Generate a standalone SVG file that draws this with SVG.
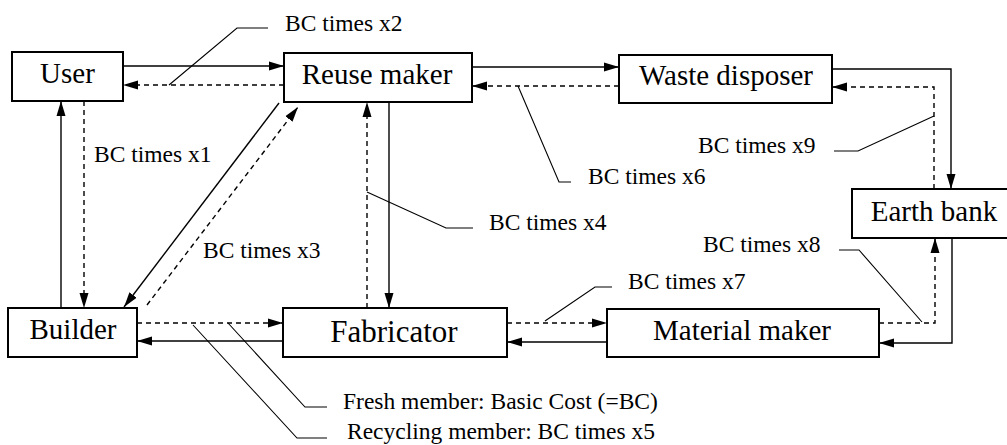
<svg xmlns="http://www.w3.org/2000/svg" width="1007" height="445" viewBox="0 0 1007 445">
<style>
.box{fill:#fff;stroke:#000;stroke-width:2}
.lbl{font-family:"Liberation Serif","Times New Roman",serif;font-size:29px;fill:#000;text-anchor:middle}
.note{font-family:"Liberation Serif","Times New Roman",serif;font-size:23.5px;fill:#000}
.c{fill:none;stroke:#000;stroke-width:1.4}
.s{marker-end:url(#ah)}
.d{stroke-dasharray:5,4}
.lead{fill:none;stroke:#000;stroke-width:1.1}
</style>
<defs>
<marker id="ah" markerUnits="userSpaceOnUse" markerWidth="15" markerHeight="10" refX="15" refY="5" orient="auto">
<path d="M0,0.5 L15,5 L0,9.5 z" fill="#000"/>
</marker>
</defs>
<rect width="1007" height="445" fill="#fff"/>
<g id="connectors">
<path class="c s" d="M123,66 H284"/>
<path class="c s d" d="M284,85 H123"/>
<path class="c s" d="M472,67 H619"/>
<path class="c s d" d="M619,86 H472"/>
<path class="c s" d="M832,69 H951 V189"/>
<path class="c s d" d="M934,189 V87 H832"/>
<path class="c s" d="M952,238 V343 H879"/>
<path class="c s d" d="M879,323 H935 V238"/>
<path class="c s d" d="M507,323 H607"/>
<path class="c s" d="M607,342 H507"/>
<path class="c s d" d="M137,323 H283"/>
<path class="c s" d="M283,341 H137"/>
<path class="c s" d="M61,308 V101"/>
<path class="c s d" d="M84,101 V308"/>
<path class="c s d" d="M367,308 V102"/>
<path class="c s" d="M389,102 V308"/>
<path class="c s" d="M279,103 L124,307"/>
<path class="c s d" d="M147,305 L298,107"/>
<path class="lead" d="M268,28 H237 L169,85"/>
<path class="lead" d="M367,192 L446,228 H473"/>
<path class="lead" d="M518,86 L559,182 H571"/>
<path class="lead" d="M834,151 H858 L934,116"/>
<path class="lead" d="M612,287 H595 L545,321"/>
<path class="lead" d="M839,250 H859 L922,322"/>
<path class="lead" d="M228,323 L305,407 H327"/>
<path class="lead" d="M193,325 L297,438 H327"/>
</g>
<g id="user"><rect class="box" x="12" y="52" width="111" height="49"/><text class="lbl" x="67.5" y="83">User</text></g>
<g id="reuse-maker"><rect class="box" x="284" y="53" width="188" height="49"/><text class="lbl" x="377" y="84">Reuse maker</text></g>
<g id="waste-disposer"><rect class="box" x="619" y="55" width="213" height="48"/><text class="lbl" x="726" y="85">Waste disposer</text></g>
<g id="earth-bank"><rect class="box" x="852" y="189" width="160" height="49"/><text class="lbl" x="934" y="221">Earth bank</text></g>
<g id="builder"><rect class="box" x="8" y="308" width="129" height="49"/><text class="lbl" x="73" y="339">Builder</text></g>
<g id="fabricator"><rect class="box" x="283" y="308" width="224" height="49"/><text class="lbl" x="394" y="342" style="font-size:31px">Fabricator</text></g>
<g id="material-maker"><rect class="box" x="607" y="309" width="272" height="48"/><text class="lbl" x="742" y="340">Material maker</text></g>
<g id="labels">
<text class="note" x="285" y="31">BC times x2</text>
<text class="note" x="94" y="162">BC times x1</text>
<text class="note" x="203" y="258">BC times x3</text>
<text class="note" x="489" y="230">BC times x4</text>
<text class="note" x="588" y="184">BC times x6</text>
<text class="note" x="698" y="153">BC times x9</text>
<text class="note" x="703" y="252">BC times x8</text>
<text class="note" x="628" y="289">BC times x7</text>
<text class="note" x="343" y="409">Fresh member: Basic Cost (=BC)</text>
<text class="note" x="347" y="439">Recycling member: BC times x5</text>
</g>
</svg>
